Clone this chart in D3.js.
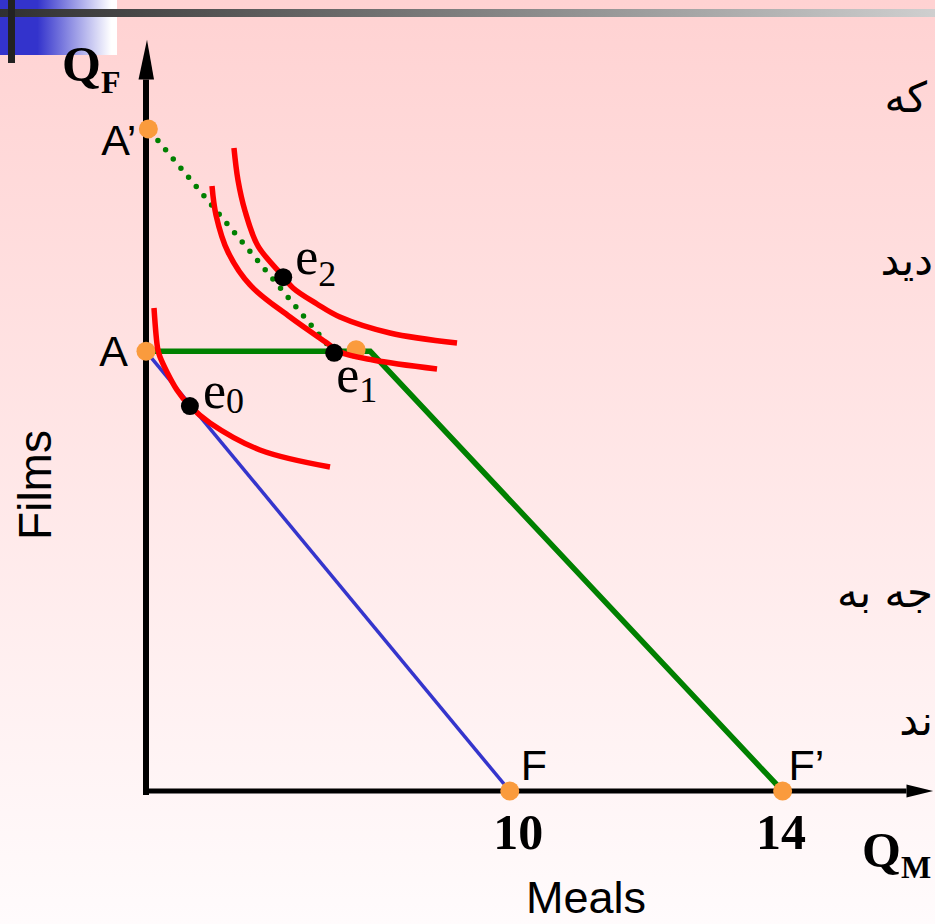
<!DOCTYPE html>
<html>
<head>
<meta charset="utf-8">
<script src="https://cdn.jsdelivr.net/npm/d3@7"></script>
<style>
html,body{margin:0;padding:0;background:#fff;}
svg{display:block;}
</style>
</head>
<body>
<div id="chart"></div>
<script>
// ---------- DATA (diagram units: 0..100 along each axis) ----------
const axisTitles = ["Meals", "Films"];
const axisSymbols = [{q: "Q", sub: "M"}, {q: "Q", sub: "F"}];
const xTickLabels = ["10", "14"];
const xTickValues = [46.4, 81.2];

// Original budget line A–F
const budgetOriginal = [{x: 0, y: 58.7}, {x: 46.4, y: 0}];
// Budget line with in-kind transfer: A – kink – F'
const budgetInKind = [{x: 0, y: 58.7}, {x: 28.6, y: 58.7}, {x: 81.2, y: 0}];
// Cash transfer extension A' – e1 (dotted)
const budgetCash = [{x: 0.3, y: 88.4}, {x: 24.0, y: 58.5}];

// Intercept / kink points (orange)
const cornerNames = ["A’", "A", "F", "F’", ""];
const cornerX = [0.3, 0, 46.4, 81.2, 26.8];
const cornerY = [88.4, 58.7, 0, 0, 58.9];

// Equilibria (black)
const eqSubs = ["0", "1", "2"];
const eqX = [5.6, 24.0, 17.5];
const eqY = [51.4, 58.5, 68.6];

// Indifference curves
const curveU0 = [[1.02, 64.49], [1.5, 59.0], [1.79, 57.94], [3.95, 53.54], [5.61, 51.40], [8.16, 49.13], [14.54, 45.53], [23.47, 43.26]];
const curveU1 = [[8.42, 80.77], [8.93, 76.90], [10.46, 71.96], [13.27, 67.56], [18.37, 63.28], [23.09, 59.81], [24.74, 58.61], [28.95, 57.54], [37.12, 56.34]];
const curveU2 = [[11.22, 85.85], [11.73, 81.58], [12.63, 77.44], [14.29, 72.76], [17.47, 68.75], [18.75, 67.16], [21.81, 65.02], [24.74, 63.28], [31.12, 61.15], [39.67, 59.81]];

// Persian text fragments visible at the right edge
const sideText = ["که", "دید", "جه به", "ند"];

// ---------- DRAWING ----------
const W = 935, H = 924;
const svg = d3.select("#chart").append("svg").attr("width", W).attr("height", H);
const defs = svg.append("defs");

const bg = defs.append("linearGradient").attr("id", "bg").attr("x1", 0).attr("y1", 0).attr("x2", 0).attr("y2", 1);
bg.append("stop").attr("offset", "0%").attr("stop-color", "#ffd2d2");
bg.append("stop").attr("offset", "100%").attr("stop-color", "#fffbfc");
const blueG = defs.append("linearGradient").attr("id", "blueG").attr("x1", 0).attr("y1", 0).attr("x2", 1).attr("y2", 0);
blueG.append("stop").attr("offset", "0%").attr("stop-color", "#3333cc");
blueG.append("stop").attr("offset", "32%").attr("stop-color", "#3333cc");
blueG.append("stop").attr("offset", "95%").attr("stop-color", "#ffffff");
blueG.append("stop").attr("offset", "100%").attr("stop-color", "#ffffff");
const barG = defs.append("linearGradient").attr("id", "barG").attr("x1", 0).attr("y1", 0).attr("x2", 1).attr("y2", 0);
barG.append("stop").attr("offset", "0%").attr("stop-color", "#303030");
barG.append("stop").attr("offset", "100%").attr("stop-color", "#cfcfcf");

svg.append("rect").attr("width", W).attr("height", H).attr("fill", "url(#bg)");
svg.append("rect").attr("x", 0).attr("y", 0).attr("width", 117).attr("height", 55).attr("fill", "url(#blueG)");
svg.append("rect").attr("x", 0).attr("y", 9).attr("width", W).attr("height", 8).attr("fill", "url(#barG)");
svg.append("rect").attr("x", 8).attr("y", 0).attr("width", 7).attr("height", 63).attr("fill", "#222");

const x = d3.scaleLinear().domain([0, 100]).range([146, 930]);
const y = d3.scaleLinear().domain([0, 100]).range([791, 42]);

// Axes with arrowheads
const ax = svg.append("g");
ax.append("line").attr("x1", x(0)).attr("x2", x(0)).attr("y1", y(0) + 4).attr("y2", y(95))
  .attr("stroke", "#000").attr("stroke-width", 6);
ax.append("path").attr("d", `M${x(0) - 7.5},${y(95)} L${x(0) + 1},${y(100.3)} L${x(0) + 8},${y(95)} Z`).attr("fill", "#000");
ax.append("line").attr("x1", x(0) - 3).attr("x2", x(97)).attr("y1", y(0)).attr("y2", y(0))
  .attr("stroke", "#000").attr("stroke-width", 5);
ax.append("path").attr("d", `M${x(97)},${y(0) - 6.5} L${x(100.4)},${y(0)} L${x(97)},${y(0) + 6.5} Z`).attr("fill", "#000");

// Tick labels via d3 axis
const tickDx = [8, -2];
const xAxis = d3.axisBottom(x).tickValues(xTickValues).tickFormat((d, i) => xTickLabels[i]).tickSize(0).tickPadding(22);
const gx = svg.append("g").attr("transform", `translate(0,${y(0)})`).call(xAxis);
gx.select(".domain").remove();
gx.selectAll("text").attr("font-family", "'Liberation Serif', 'Times New Roman', serif")
  .attr("font-weight", "bold").attr("font-size", 50).attr("fill", "#000")
  .attr("dx", (d, i) => tickDx[i]);

const line = d3.line().x(d => x(d.x)).y(d => y(d.y));
svg.append("path").attr("d", line(budgetOriginal)).attr("fill", "none").attr("stroke", "#3535cc").attr("stroke-width", 3.5);
svg.append("path").attr("d", line(budgetInKind)).attr("fill", "none").attr("stroke", "#008000").attr("stroke-width", 5.5).attr("stroke-linejoin", "miter");
svg.append("path").attr("d", line(budgetCash)).attr("fill", "none").attr("stroke", "#008000").attr("stroke-width", 5.5)
  .attr("stroke-linecap", "round").attr("stroke-dasharray", "0 12").attr("stroke-dashoffset", -15);

// Orange corner points
const corners = cornerX.map((v, i) => ({name: cornerNames[i], x: v, y: cornerY[i]}));
svg.append("g").selectAll("circle").data(corners).join("circle")
  .attr("cx", d => x(d.x)).attr("cy", d => y(d.y)).attr("r", 9.5).attr("fill", "#fa9b3d");

// Indifference curves
const cl = d3.line().x(d => x(d[0])).y(d => y(d[1])).curve(d3.curveCatmullRom.alpha(0.5));
[curveU0, curveU1, curveU2].forEach(c => {
  svg.append("path").attr("d", cl(c)).attr("fill", "none").attr("stroke", "#ff0000").attr("stroke-width", 5.5).attr("stroke-linecap", "butt");
});

// Equilibria
const eqs = eqX.map((v, i) => ({sub: eqSubs[i], x: v, y: eqY[i]}));
svg.append("g").selectAll("circle").data(eqs).join("circle")
  .attr("cx", d => x(d.x)).attr("cy", d => y(d.y)).attr("r", 9).attr("fill", "#000");

// Corner labels
const cornerOffsets = [[-12, 26, "end"], [-18, 15, "end"], [11, -11, "start"], [6, -11, "start"]];
svg.append("g").selectAll("text").data(corners.slice(0, 4)).join("text")
  .attr("x", (d, i) => x(d.x) + cornerOffsets[i][0])
  .attr("y", (d, i) => y(d.y) + cornerOffsets[i][1])
  .attr("text-anchor", (d, i) => cornerOffsets[i][2])
  .attr("font-family", "'Liberation Sans', Arial, sans-serif").attr("font-size", 43).attr("fill", "#000")
  .text(d => d.name);

// Equilibrium labels
const eqOffsets = [[13, 2, 5], [2, 39, 10], [12, -3, 12]];
const eqT = svg.append("g").selectAll("text").data(eqs).join("text")
  .attr("x", (d, i) => x(d.x) + eqOffsets[i][0])
  .attr("y", (d, i) => y(d.y) + eqOffsets[i][1])
  .attr("font-family", "'Liberation Serif', 'Times New Roman', serif").attr("fill", "#000");
eqT.append("tspan").attr("font-size", 52).text("e");
eqT.append("tspan").attr("font-size", 36).attr("dy", (d, i) => eqOffsets[i][2]).text(d => d.sub);

// Axis symbols Q_F, Q_M
const symPos = [[862, 867, 11], [62, 81, 12]];
axisSymbols.forEach((s, i) => {
  const t = svg.append("text").attr("x", symPos[i][0]).attr("y", symPos[i][1])
    .attr("font-family", "'Liberation Serif', 'Times New Roman', serif").attr("font-weight", "bold").attr("fill", "#000");
  t.append("tspan").attr("font-size", 50).text(s.q);
  t.append("tspan").attr("font-size", 32).attr("dy", symPos[i][2]).text(s.sub);
});

// Axis titles
svg.append("text").attr("x", 586).attr("y", 913).attr("text-anchor", "middle")
  .attr("font-family", "'Liberation Sans', Arial, sans-serif").attr("font-size", 45).attr("fill", "#000").text(axisTitles[0]);
svg.append("text").attr("transform", "translate(51,485) rotate(-90)").attr("text-anchor", "middle")
  .attr("font-family", "'Liberation Sans', Arial, sans-serif").attr("font-size", 46).attr("fill", "#000").text(axisTitles[1]);

// Persian side text (right edge)
const sidePos = [[927, 112], [933, 275], [933, 607], [933, 735]];
svg.append("g").selectAll("text").data(sideText).join("text")
  .attr("x", (d, i) => sidePos[i][0]).attr("y", (d, i) => sidePos[i][1])
  .attr("text-anchor", "end").attr("font-family", "'DejaVu Sans', sans-serif").attr("font-size", 42).attr("fill", "#000")
  .text(d => d);
</script>
</body>
</html>
